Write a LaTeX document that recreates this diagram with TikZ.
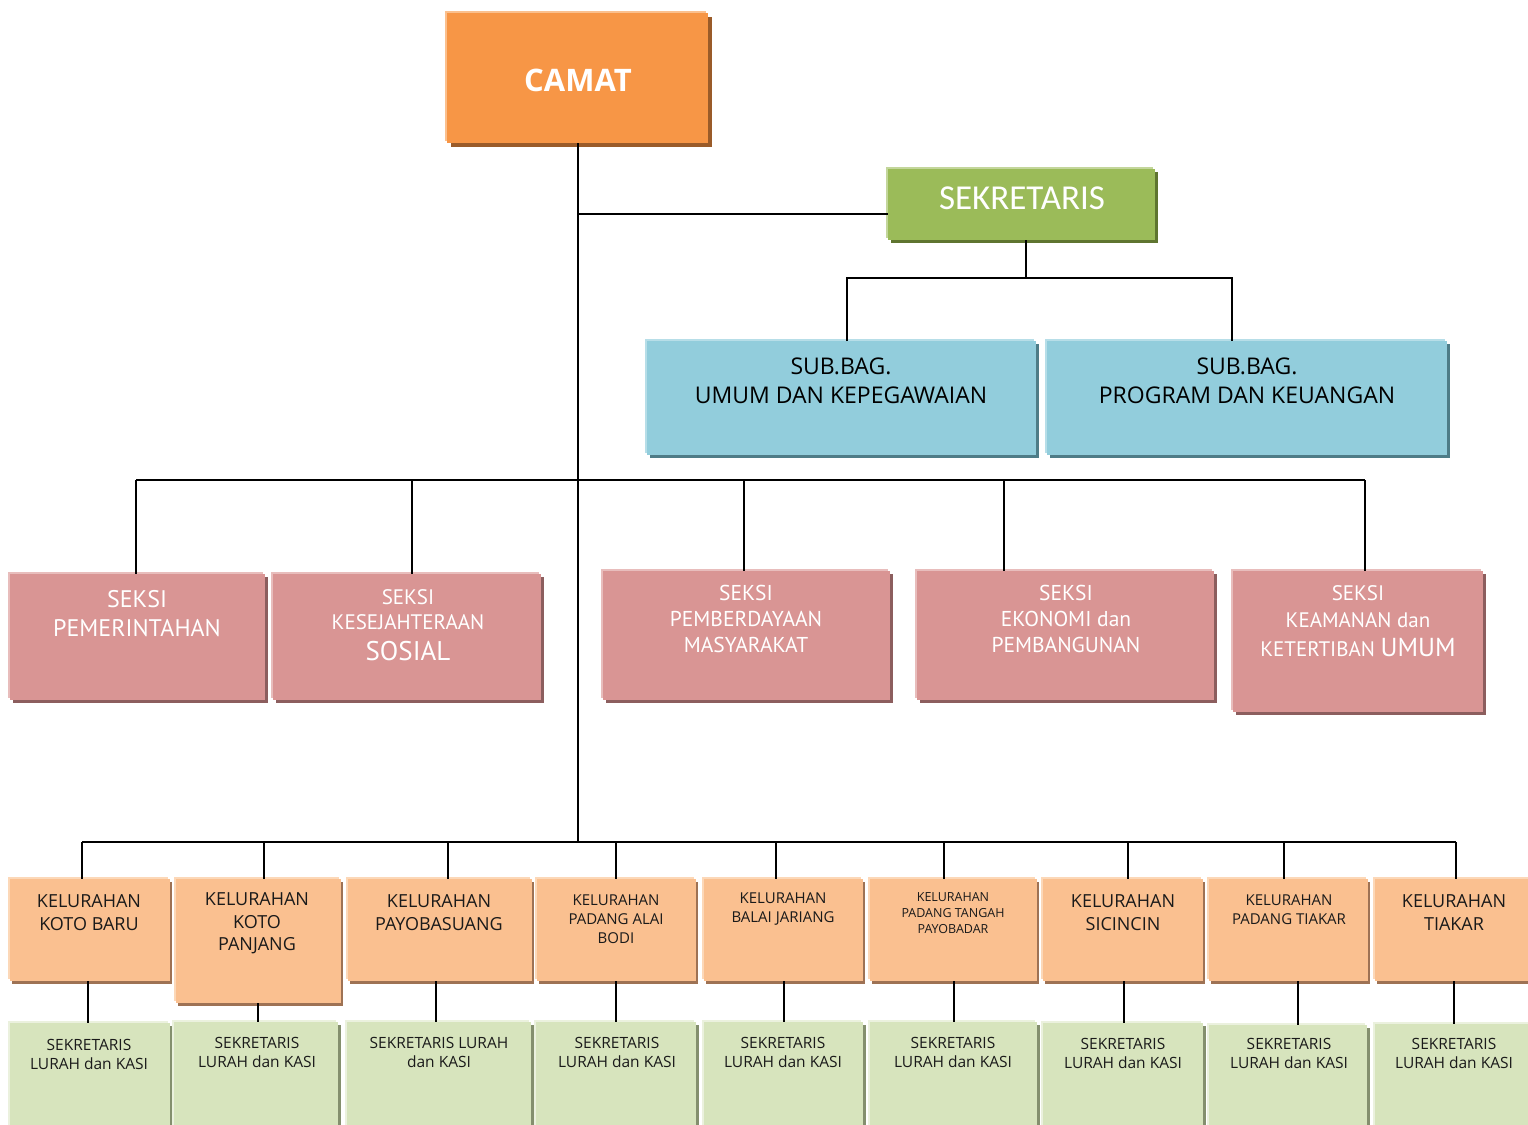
\documentclass[tikz,border=0pt]{standalone}
\usepackage{fontspec}
\setmainfont{Open Sans}
\newfontfamily\fopen{Open Sans}
\newfontfamily\fcarl{Carlito}
\newfontfamily\fpts{PT Sans}
\usetikzlibrary{shadows}
\definecolor{camatF}{HTML}{F79646}
\definecolor{camatL}{HTML}{FBC08E}
\definecolor{camatD}{HTML}{9A5B29}
\definecolor{sekF}{HTML}{9BBB59}
\definecolor{sekL}{HTML}{C3D69B}
\definecolor{sekD}{HTML}{5F7530}
\definecolor{subF}{HTML}{92CDDC}
\definecolor{subL}{HTML}{B7DEE8}
\definecolor{subD}{HTML}{4E7C87}
\definecolor{sksF}{HTML}{D99594}
\definecolor{sksL}{HTML}{E8BDBC}
\definecolor{sksD}{HTML}{8C5E5E}
\definecolor{kelF}{HTML}{FAC090}
\definecolor{kelL}{HTML}{FCD8B8}
\definecolor{kelD}{HTML}{9E7254}
\definecolor{grnF}{HTML}{D7E4BD}
\definecolor{grnL}{HTML}{EBF1DE}
\definecolor{grnD}{HTML}{848F6E}
\definecolor{txtK}{HTML}{1A1A1A}
\newcommand{\orgbox}[6]{%
  \node[#2, anchor=north west, minimum width={#5-#3}, minimum height={#6-#4}] (#1) at (#3,#4) {};}
\begin{document}
\begin{tikzpicture}[x=1pt,y=-1pt,
  box/.style={inner sep=0pt, outer sep=0pt},
  mkbox/.style n args={5}{box, fill=#1,
     general shadow={shadow xshift=#4pt, shadow yshift=-#5pt, fill=#3, opacity=1},
     general shadow={shadow xshift=-2pt, shadow yshift=2pt, fill=#2, opacity=1}},
  camatbox/.style={mkbox={camatF}{camatL}{camatD}{4}{4}},
  sekbox/.style={mkbox={sekF}{sekL}{sekD}{3}{3}},
  subbox/.style={mkbox={subF}{subL}{subD}{3}{3}},
  sksbox/.style={mkbox={sksF}{sksL}{sksD}{3}{3}},
  kelbox/.style={mkbox={kelF}{kelL}{kelD}{2}{3}},
  grnbox/.style={mkbox={grnF}{grnL}{grnD}{3}{3}},
  tx/.style={inner sep=0pt, outer sep=0pt, align=center},
  camattxt/.style={tx, text=white, font=\fopen\bfseries\fontsize{31}{36}\selectfont},
  sektxt/.style={tx, text=white, font=\fcarl\fontsize{35}{40}\selectfont},
  subtxt/.style={tx, text=black, font=\fopen\fontsize{23}{29}\selectfont},
  skstxt/.style={tx, text=white, font=\fpts\fontsize{#1}{26}\selectfont},
  kelbig/.style={tx, text=txtK, font=\fopen\fontsize{18}{22.5}\selectfont},
  kelsml/.style={tx, text=txtK, font=\fopen\fontsize{15}{19}\selectfont},
  keltny/.style={tx, text=txtK, font=\fopen\fontsize{12.5}{16}\selectfont},
  grntxt/.style={tx, text=txtK, font=\fopen\fontsize{15.5}{19}\selectfont},
  conn/.style={draw=black, line width=1.8pt},
  bus/.style={draw=black, line width=2.6pt}
]
\useasboundingbox (0,0) rectangle (1528,1124);
\begin{scope}
\clip (0,0) rectangle (1528,1124);
% boxes
\orgbox{camat}{camatbox}{447}{13}{708}{143}
\orgbox{sek}{sekbox}{888}{169}{1155}{240}
\orgbox{sub1}{subbox}{647}{341}{1036}{455}
\orgbox{sub2}{subbox}{1047}{341}{1447}{455}
\orgbox{sk1}{sksbox}{10}{574}{265}{700}
\orgbox{sk2}{sksbox}{273}{574}{541}{700}
\orgbox{sk3}{sksbox}{603}{571}{890}{700}
\orgbox{sk4}{sksbox}{917}{571}{1214}{700}
\orgbox{sk5}{sksbox}{1233}{571}{1483}{712}
\orgbox{kel1}{kelbox}{10}{879}{170}{981}
\orgbox{kel2}{kelbox}{176}{879}{341}{1003}
\orgbox{kel3}{kelbox}{348}{879}{532}{981}
\orgbox{kel4}{kelbox}{537}{879}{696}{981}
\orgbox{kel5}{kelbox}{704}{879}{863}{981}
\orgbox{kel6}{kelbox}{870}{879}{1037}{981}
\orgbox{kel7}{kelbox}{1043}{879}{1203}{981}
\orgbox{kel8}{kelbox}{1209}{879}{1368}{981}
\orgbox{kel9}{kelbox}{1375}{879}{1545}{981}
\orgbox{g1}{grnbox}{10}{1023}{170}{1140}
\orgbox{g2}{grnbox}{174}{1022}{338}{1140}
\orgbox{g3}{grnbox}{347}{1022}{531}{1140}
\orgbox{g4}{grnbox}{536}{1022}{696}{1140}
\orgbox{g5}{grnbox}{704}{1022}{863}{1140}
\orgbox{g6}{grnbox}{870}{1022}{1037}{1140}
\orgbox{g7}{grnbox}{1043}{1023}{1203}{1140}
\orgbox{g8}{grnbox}{1209}{1025}{1367}{1140}
\orgbox{g9}{grnbox}{1375}{1024}{1545}{1140}
% texts
\node[camattxt] (camat-t) at (578,80) {CAMAT};
\node[sektxt] (sek-t) at (1022,198) {SEKRETARIS};
\node[subtxt] (sub1-t) at (841,380.5) {SUB.BAG.\\UMUM DAN KEPEGAWAIAN};
\node[subtxt] (sub2-t) at (1247,380.5) {SUB.BAG.\\PROGRAM DAN KEUANGAN};
\node[skstxt=24, font=\fpts\fontsize{24}{29}\selectfont] (sk1-t) at (137,613.5) {SEKSI\\PEMERINTAHAN};
\node[skstxt=21, anchor=north, font=\fpts\fontsize{21}{25}\selectfont] (sk2-t) at (408,590) {SEKSI\\KESEJAHTERAAN\\[6pt]{\fontsize{27}{29}\selectfont SOSIAL}};
\node[skstxt=21.5] (sk3-t) at (746,619) {SEKSI\\PEMBERDAYAAN\\MASYARAKAT};
\node[skstxt=21.5] (sk4-t) at (1066,618.5) {SEKSI\\EKONOMI dan\\PEMBANGUNAN};
\node[skstxt=21, anchor=north, font=\fpts\fontsize{21}{27}\selectfont] (sk5-t) at (1358,585.5) {SEKSI\\KEAMANAN dan\\[2pt]KETERTIBAN {\fontsize{26}{28}\selectfont UMUM}};
\node[kelbig] (kel1-t) at (89,912.5) {KELURAHAN\\KOTO BARU};
\node[kelbig] (kel2-t) at (257,923.5) {KELURAHAN\\KOTO\\PANJANG};
\node[kelbig] (kel3-t) at (439,912.5) {KELURAHAN\\PAYOBASUANG};
\node[kelsml] (kel4-t) at (616,919) {KELURAHAN\\PADANG ALAI\\BODI};
\node[kelsml] (kel5-t) at (783,909.5) {KELURAHAN\\BALAI JARIANG};
\node[keltny] (kel6-t) at (953,913) {KELURAHAN\\PADANG TANGAH\\PAYOBADAR};
\node[kelbig] (kel7-t) at (1123,912.5) {KELURAHAN\\SICINCIN};
\node[kelsml] (kel8-t) at (1289,909.5) {KELURAHAN\\PADANG TIAKAR};
\node[kelbig] (kel9-t) at (1454,912.5) {KELURAHAN\\TIAKAR};
\node[grntxt] (g1-t) at (89,1054) {SEKRETARIS\\LURAH dan KASI};
\node[grntxt] (g2-t) at (257,1052.5) {SEKRETARIS\\LURAH dan KASI};
\node[grntxt] (g3-t) at (439,1052.5) {SEKRETARIS LURAH\\dan KASI};
\node[grntxt] (g4-t) at (617,1052.5) {SEKRETARIS\\LURAH dan KASI};
\node[grntxt] (g5-t) at (783,1052.5) {SEKRETARIS\\LURAH dan KASI};
\node[grntxt] (g6-t) at (953,1052.5) {SEKRETARIS\\LURAH dan KASI};
\node[grntxt] (g7-t) at (1123,1053.5) {SEKRETARIS\\LURAH dan KASI};
\node[grntxt] (g8-t) at (1289,1053.5) {SEKRETARIS\\LURAH dan KASI};
\node[grntxt] (g9-t) at (1454,1053.5) {SEKRETARIS\\LURAH dan KASI};
% junction coordinates
\coordinate (tk1) at (578,214);
\coordinate (tk3) at (578,842);
\coordinate (sb) at (1026,278);
\coordinate (sbL) at (847,278);
\coordinate (sbR) at (1232,278);
\coordinate (s1) at (136,480);
\coordinate (s2) at (412,480);
\coordinate (s3) at (744,480);
\coordinate (s4) at (1004,480);
\coordinate (s5) at (1365,480);
\coordinate (k1) at (82,842);
\coordinate (k2) at (264,842);
\coordinate (k3) at (448,842);
\coordinate (k4) at (616,842);
\coordinate (k5) at (776,842);
\coordinate (k6) at (944,842);
\coordinate (k7) at (1128,842);
\coordinate (k8) at (1284,842);
\coordinate (k9) at (1456,842);
\coordinate (d1) at (88,1000);
\coordinate (d2) at (258,1000);
\coordinate (d3) at (436,1000);
\coordinate (d4) at (616,1000);
\coordinate (d5) at (784,1000);
\coordinate (d6) at (954,1000);
\coordinate (d7) at (1124,1000);
\coordinate (d8) at (1298,1000);
\coordinate (d9) at (1454,1000);
% connectors
\draw[conn] (camat.south -| tk1) -- (tk3);
\draw[conn] (tk1) -- (sek.west |- tk1);
\draw[conn] (sek.south -| sb) -- (sb);
\draw[conn] (sub1.north -| sbL) -- (sbL) -- (sbR) -- (sub2.north -| sbR);
\draw[conn] (s1) -- (s5);
\foreach \i in {1,...,5} { \draw[conn] (s\i) -- (sk\i.north -| s\i); }
\draw[bus] (k1) -- (k9);
\foreach \i in {1,...,9} { \draw[conn] (k\i) -- (kel\i.north -| k\i); }
\foreach \i in {1,...,9} { \draw[conn] (kel\i.south -| d\i) -- (g\i.north -| d\i); }
\end{scope}
\end{tikzpicture}
\end{document}
